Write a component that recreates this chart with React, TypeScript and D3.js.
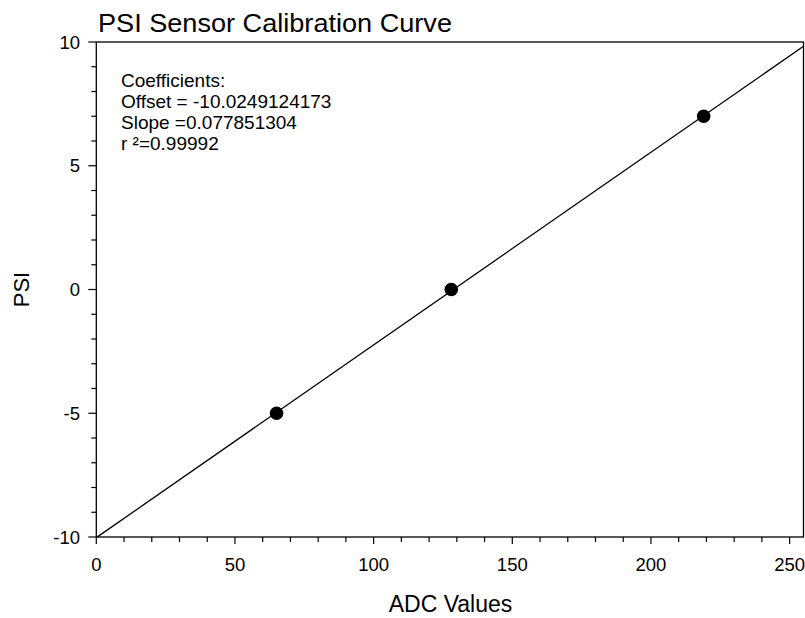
import React from "react";
import * as d3 from "d3";

const adcValues = [65, 128, 219];
const psiValues = [-5, 0, 7];
const offset = -10.0249124173;
const slope = 0.077851304;
const xMajorTicks = [0, 50, 100, 150, 200, 250];
const yMajorTicks = [-10, -5, 0, 5, 10];
const annotationLines = [
  "Coefficients:",
  "Offset = -10.0249124173",
  "Slope =0.077851304",
  "r \u00B2=0.99992",
];

const W = 805;
const H = 618;
const left = 96.3;
const right = 803.5;
const top = 42;
const bottom = 537;

export default function App() {
  const x = d3.scaleLinear().domain([0, 255]).range([left, right]);
  const y = d3.scaleLinear().domain([-10, 10]).range([bottom, top]);
  const xMinor = d3.range(0, 256, 10).filter((v) => v % 50 !== 0);
  const yMinor = d3.range(-10, 11, 1).filter((v) => v % 5 !== 0);
  const fitX = [0, 255];
  const line = d3
    .line<number>()
    .x((d) => x(d))
    .y((d) => y(offset + slope * d));
  const font = "Liberation Sans, Arial, sans-serif";
  return (
    <svg
      width={W}
      height={H}
      style={{ position: "fixed", left: 0, top: 0, background: "#fff" }}
      fontFamily={font}
    >
      <rect x={0} y={0} width={W} height={H} fill="#fff" />
      <text x={98} y={31.5} fontSize={25} textLength={354} lengthAdjust="spacingAndGlyphs" fill="#000">
        PSI Sensor Calibration Curve
      </text>
      {/* frame */}
      <rect
        x={left}
        y={top}
        width={right - left}
        height={bottom - top}
        fill="none"
        stroke="#000"
        strokeWidth={1.3}
      />
      {/* x ticks */}
      {xMajorTicks.map((t) => (
        <g key={"xm" + t}>
          <line x1={x(t)} x2={x(t)} y1={bottom} y2={bottom + 7} stroke="#000" strokeWidth={1.2} />
          <text x={x(t)} y={571} fontSize={18.5} textAnchor="middle" fill="#000">
            {t}
          </text>
        </g>
      ))}
      {xMinor.map((t) => (
        <line key={"xn" + t} x1={x(t)} x2={x(t)} y1={bottom} y2={bottom + 5} stroke="#000" strokeWidth={1.2} />
      ))}
      {/* y ticks */}
      {yMajorTicks.map((t) => (
        <g key={"ym" + t}>
          <line x1={left} x2={left - 8} y1={y(t)} y2={y(t)} stroke="#000" strokeWidth={1.2} />
          <text x={80} y={y(t)} dy="0.36em" fontSize={18.5} textAnchor="end" fill="#000">
            {t}
          </text>
        </g>
      ))}
      {yMinor.map((t) => (
        <line key={"yn" + t} x1={left} x2={left - 5} y1={y(t)} y2={y(t)} stroke="#000" strokeWidth={1.2} />
      ))}
      {/* fit line */}
      <path d={line(fitX) || ""} fill="none" stroke="#000" strokeWidth={1.3} />
      {/* points */}
      {adcValues.map((v, i) => (
        <circle key={"p" + i} cx={x(v)} cy={y(psiValues[i])} r={6.8} fill="#000" />
      ))}
      {/* annotation */}
      {annotationLines.map((s, i) => (
        <text key={"a" + i} x={121} y={87 + i * 21.1} fontSize={19} fill="#000">
          {s}
        </text>
      ))}
      {/* axis labels */}
      <text x={450.5} y={612} fontSize={23} textAnchor="middle" fill="#000">
        ADC Values
      </text>
      <text
        transform={`translate(29,${(top + bottom) / 2}) rotate(-90)`}
        fontSize={22}
        textAnchor="middle"
        fill="#000"
      >
        PSI
      </text>
    </svg>
  );
}
